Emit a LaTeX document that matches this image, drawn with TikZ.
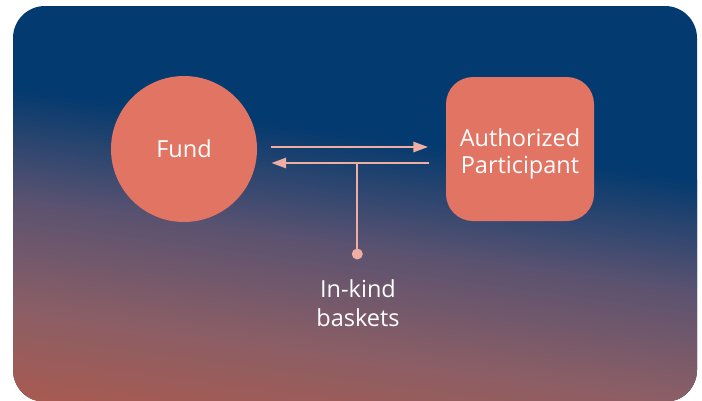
\documentclass[tikz,border=0pt]{standalone}
\usepackage{fontspec}
\setmainfont{Open Sans}
\usetikzlibrary{arrows.meta}
\definecolor{navy}{HTML}{033A6F}
\definecolor{gmid}{HTML}{5A5270}
\definecolor{gmidb}{HTML}{8A5E66}
\definecolor{gend}{HTML}{AC5A4E}
\definecolor{salmon}{HTML}{E27464}
\definecolor{pinkline}{HTML}{EEAEA2}
\pgfdeclareverticalshading{bgsh}{100bp}{color(0bp)=(gend); color(25bp)=(gend); color(41.4bp)=(gmidb); color(57.8bp)=(gmid); color(75bp)=(navy); color(100bp)=(navy)}
\tikzset{
  lbl/.style={text=white, font=\fontsize{23.5}{27}\selectfont, align=center},
  blob/.style={fill=salmon, inner sep=0pt},
  arr/.style={draw=pinkline, line width=2.8pt, -{Triangle[length=15pt,width=10pt]}},
  stem/.style={draw=pinkline, line width=2pt},
}
\begin{document}
\begin{tikzpicture}[x=1pt,y=-1pt]
\useasboundingbox (0,0) rectangle (702,400);
\begin{scope}
  \clip[rounded corners=32pt] (13,6) rectangle (697,402);
  \fill[navy] (0,0) rectangle (702,400);
  \shade[shading=bgsh, transform canvas={rotate around={-7.6:(350,133)}}] (-300,133) rectangle (1000,453);
\end{scope}
\node[blob, circle, minimum size=146pt, lbl] (fund) at (184,149) {Fund};
\node[blob, rectangle, rounded corners=27pt, minimum width=148pt, minimum height=144pt, lbl, text height=48.6pt, text depth=0pt] (ap) at (520,149) {Authorized\\Participant};
\draw[arr, shorten <=13.5pt, shorten >=17.5pt] ([yshift=2pt]fund.east) -- ([yshift=2pt]ap.west);
\draw[arr, shorten <=17pt, shorten >=14pt] ([yshift=-14pt]ap.west) -- ([yshift=-14pt]fund.east);
\coordinate (j) at (357.3,163.3);
\node[circle, fill=pinkline, minimum size=11pt, inner sep=0pt] (pin) at (357.3,254) {};
\draw[stem] (pin.center) -- (j);
\node[lbl, font=\fontsize{23.5}{29}\selectfont, text depth=0pt] (bask) at (358,303.3) {In-kind\\baskets};
\end{tikzpicture}
\end{document}
